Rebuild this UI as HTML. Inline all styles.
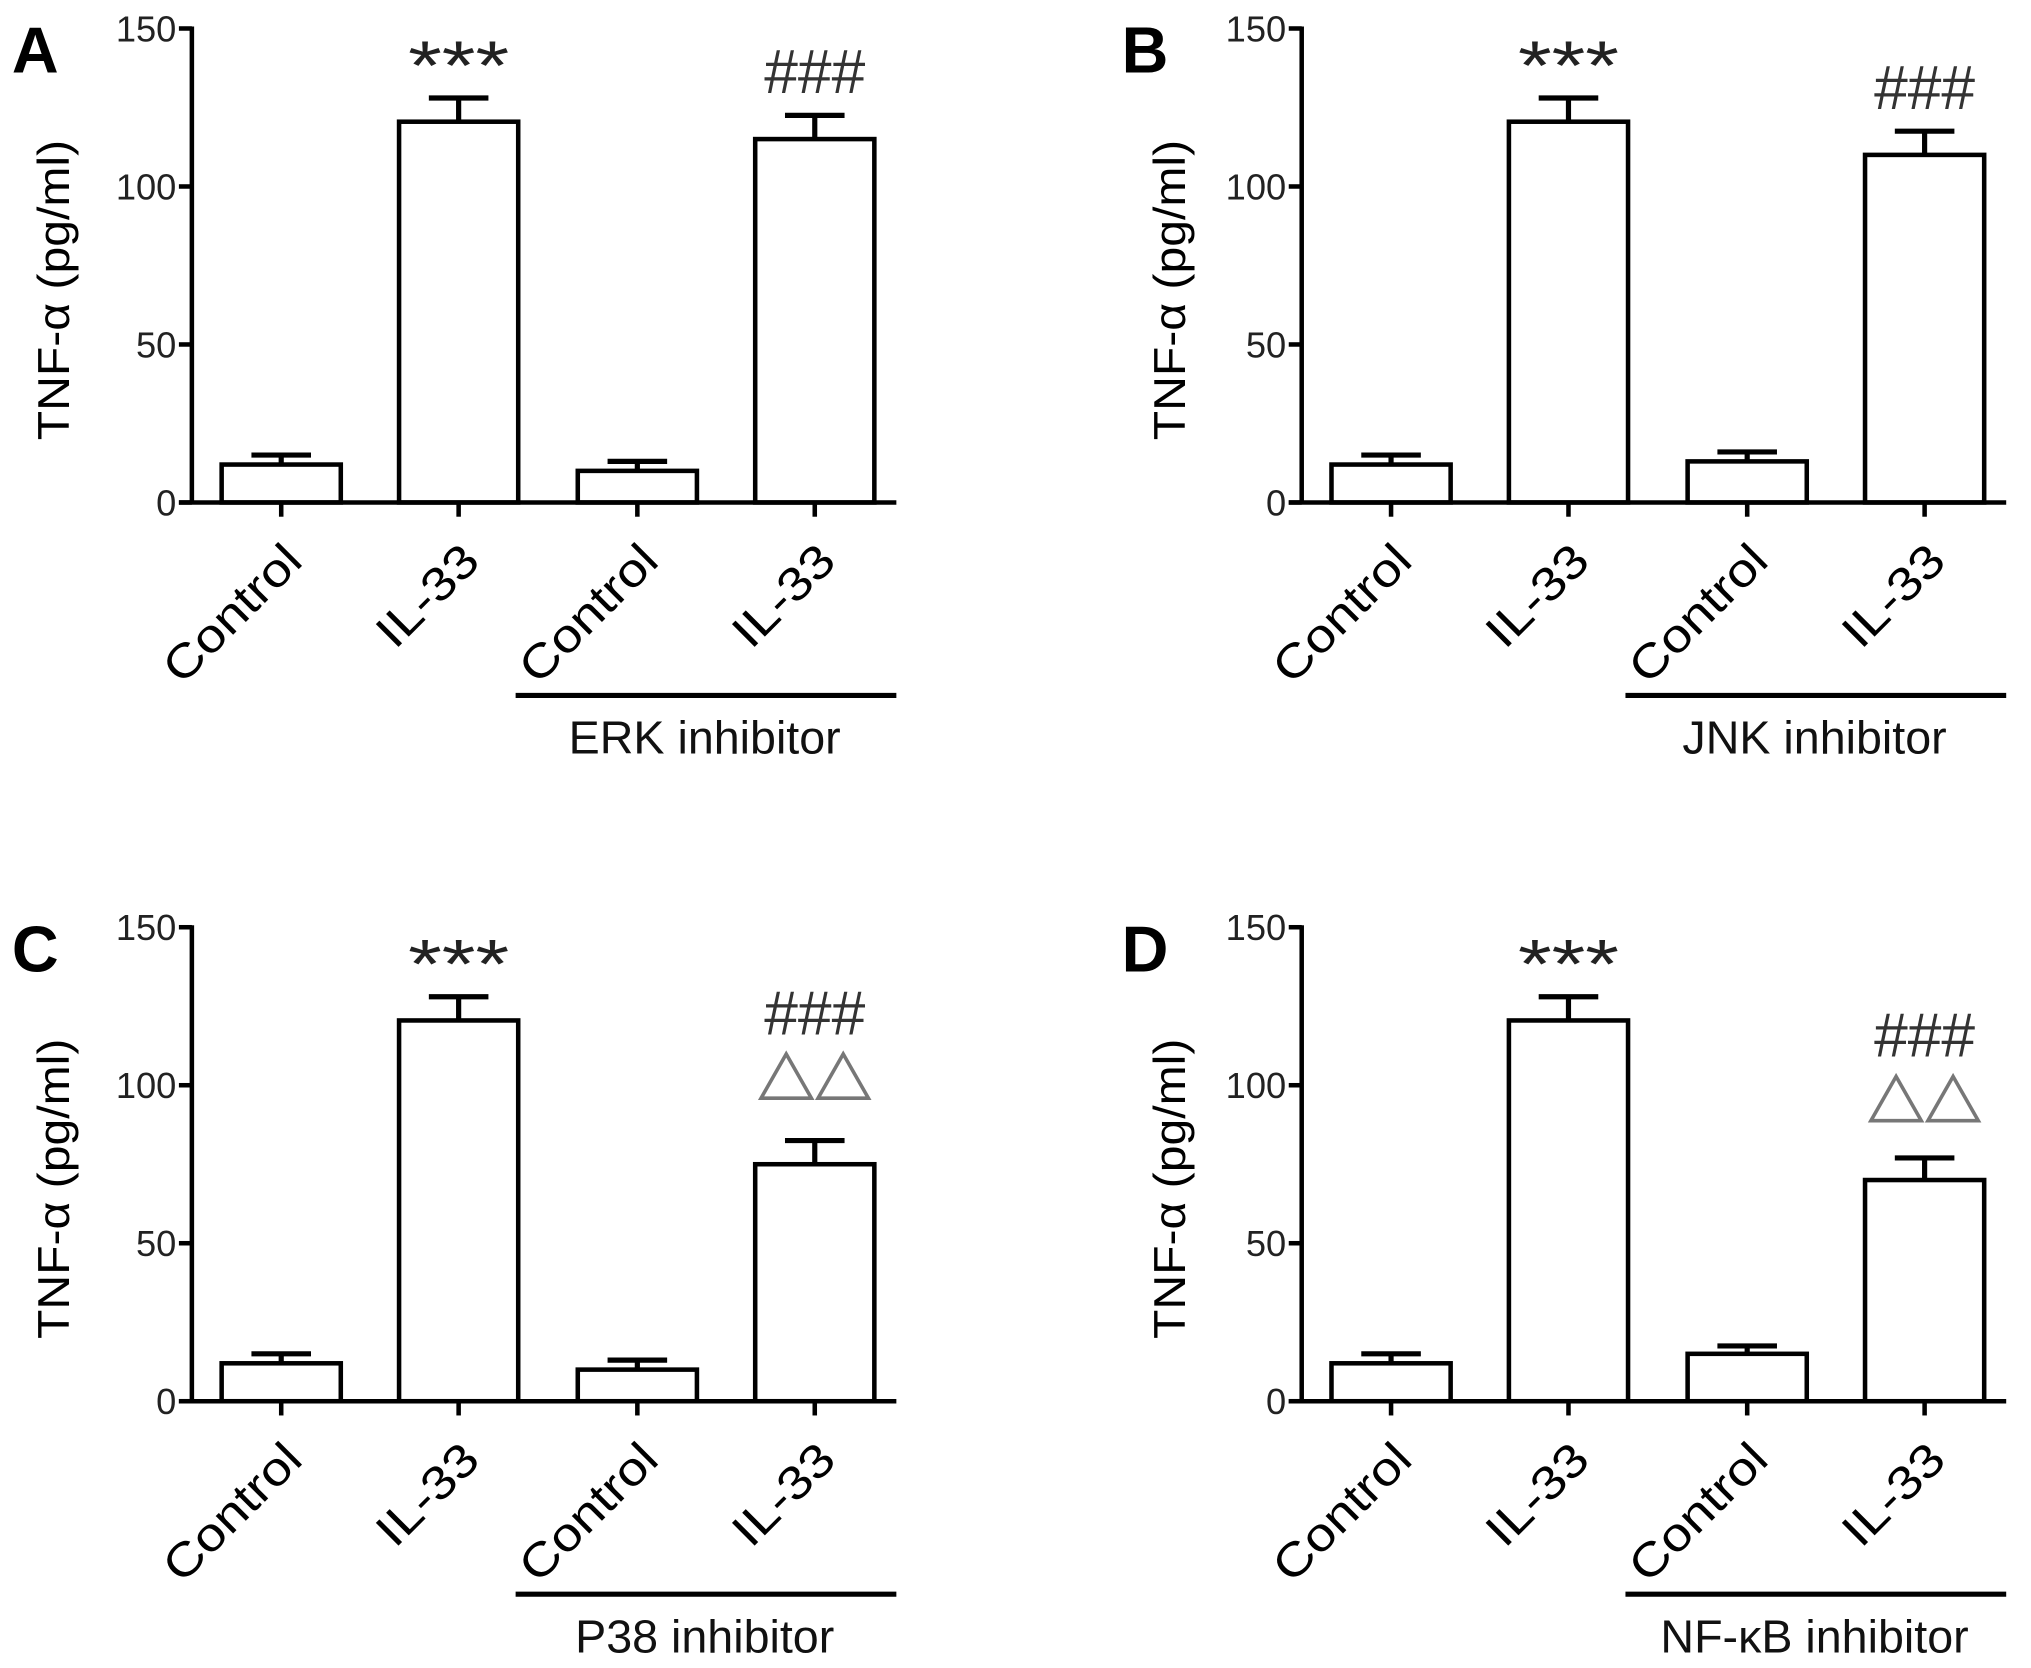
<!DOCTYPE html>
<html><head><meta charset="utf-8"><style>
html,body{margin:0;padding:0;background:#fff;}
svg{display:block;}
text{font-family:"Liberation Sans","DejaVu Sans",sans-serif;}
</style></head>
<body>
<svg id="fig" width="2031" height="1668" viewBox="0 0 1568 1288" xmlns="http://www.w3.org/2000/svg"></svg>
<script>
const categories = ["Control", "IL-33", "Control", "IL-33"];
const yTicks = [0, 50, 100, 150];
const panelLetters = ["A", "B", "C", "D"];
const inhibitorLabels = ["ERK inhibitor", "JNK inhibitor", "P38 inhibitor", "NF-\u03BAB inhibitor"];
const valuesA = [12, 120.5, 10, 115];
const errorsA = [3, 7.5, 3, 7.5];
const valuesB = [12, 120.5, 13, 110];
const errorsB = [3, 7.5, 3, 7.5];
const valuesC = [12, 120.5, 10, 75];
const errorsC = [3, 7.5, 3, 7.5];
const valuesD = [12, 120.5, 15, 70];
const errorsD = [3, 7.5, 2.5, 7];
const hashLevelC = 123;
const hashLevelD = 116;
const triLevelC = 106;
const triLevelD = 99;

const NS = "http://www.w3.org/2000/svg";
const svg = document.getElementById("fig");
function mk(tag, attrs, parent, txt) {
  const e = document.createElementNS(NS, tag);
  for (const k in attrs) e.setAttribute(k, attrs[k]);
  if (txt !== undefined) e.textContent = txt;
  (parent || svg).appendChild(e);
  return e;
}
const panels = [
  {ox:148, y0:388, vals:valuesA, errs:errorsA, hash:null, tri:null},
  {ox:1005, y0:388, vals:valuesB, errs:errorsB, hash:null, tri:null},
  {ox:148, y0:1082, vals:valuesC, errs:errorsC, hash:hashLevelC, tri:triLevelC},
  {ox:1005, y0:1082, vals:valuesD, errs:errorsD, hash:hashLevelD, tri:triLevelD}
];
const offsets = [69, 206, 344, 481];
const barW = 92;
const plotH = 366;
const yMax = 150;

panels.forEach((p, pi) => {
  const g = mk("g", {});
  
  
  const Y = v => p.y0 - v / yMax * plotH;
  const X = i => p.ox + offsets[i];
  const sw = 3.5;

  const letter = mk("text", {x: p.ox - 139, y: p.y0 - 332, "font-size": 50, "font-weight": "bold"}, g, panelLetters[pi]);
  
  

  p.vals.forEach((v, i) => {
    const r = mk("rect", {x: X(i) - barW/2, y: Y(v), width: barW, height: p.y0 - Y(v), fill: "#fff", stroke: "#000", "stroke-width": sw}, g);
    
    
    const e = p.errs[i];
    const eb = mk("path", {d: `M${X(i)} ${Y(v)} V${Y(v + e)} M${X(i) - 23} ${Y(v + e)} H${X(i) + 23}`, stroke: "#000", "stroke-width": sw + 0.5, fill: "none"}, g);
    
    
  });

  const yax = mk("line", {x1: p.ox, y1: Y(yMax) - 1.5, x2: p.ox, y2: p.y0, stroke: "#000", "stroke-width": sw}, g);
  
  
  const xax = mk("line", {x1: p.ox - 10, y1: p.y0, x2: p.ox + 544, y2: p.y0, stroke: "#000", "stroke-width": sw}, g);
  
  

  yTicks.forEach(t => {
    mk("line", {x1: p.ox - 10, y1: Y(t), x2: p.ox, y2: Y(t), stroke: "#000", "stroke-width": sw}, g);
    const tl = mk("text", {x: p.ox - 12, y: Y(t) + 10, "font-size": 28, "text-anchor": "end", fill: "#222"}, g, String(t));
    
    
  });

  const yt = mk("text", {x: 0, y: 0, "font-size": 34, "text-anchor": "middle", textLength: 232, lengthAdjust: "spacingAndGlyphs", transform: `translate(${p.ox - 95 + (pi % 2 ? 5 : 0)},${p.y0 - 164}) rotate(-90)`}, g, "TNF-\u03B1 (pg/ml)");
  
  

  categories.forEach((c, i) => {
    mk("line", {x1: X(i), y1: p.y0, x2: X(i), y2: p.y0 + 11, stroke: "#000", "stroke-width": sw}, g);
    const len = c === "Control" ? 134 : 95;
    const cl = mk("text", {x: 0, y: 0, "font-size": 36, "text-anchor": "end", textLength: len, lengthAdjust: "spacingAndGlyphs", transform: `translate(${X(i) + 18},${p.y0 + 47}) rotate(-45)`}, g, c);
    
    
  });

  const bl = mk("line", {x1: p.ox + 250, y1: p.y0 + 149, x2: p.ox + 544, y2: p.y0 + 149, stroke: "#000", "stroke-width": 4}, g);
  
  
  const il = mk("text", {x: p.ox + 396, y: p.y0 + 194, "font-size": 36, "text-anchor": "middle", fill: "#111"}, g, inhibitorLabels[pi]);
  
  

  const st = mk("text", {x: X(1), y: Y(yMax) + 47, "font-size": 54, "text-anchor": "middle", textLength: 78, lengthAdjust: "spacingAndGlyphs", fill: "#222"}, g, "***");
  
  
  const hashV = p.hash !== null ? p.hash : p.vals[3] + p.errs[3] + 14;
  const hs = mk("text", {x: X(3), y: Y(hashV) + 17, "font-size": 48, "text-anchor": "middle", textLength: 78, lengthAdjust: "spacingAndGlyphs", fill: "#333"}, g, "###");
  
  
  if (p.tri !== null) {
    const tr = mk("text", {x: X(3), y: Y(p.tri) + 20, "font-size": 50, "text-anchor": "middle", textLength: 88, lengthAdjust: "spacingAndGlyphs", fill: "#777"}, g, "\u25B3\u25B3");
    
    
  }
});
</script>
</body></html>
